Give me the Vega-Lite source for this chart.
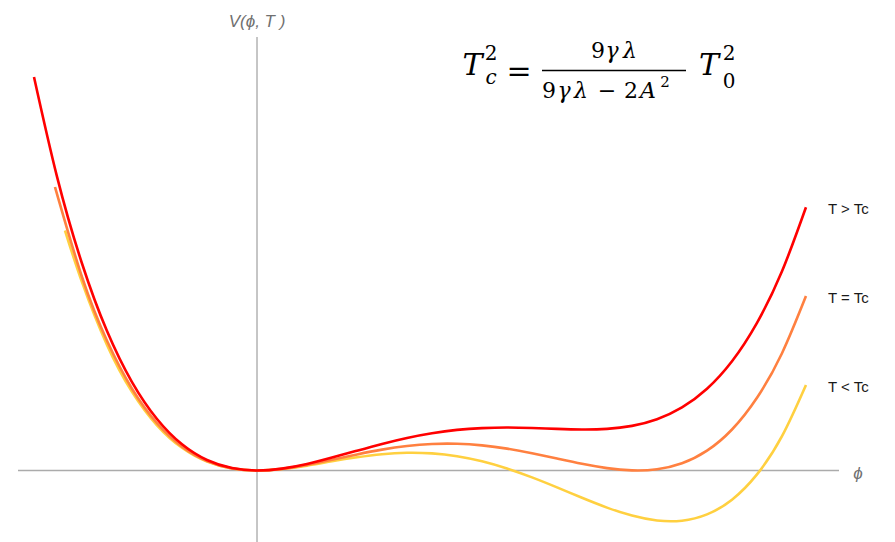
{
  "$schema": "https://vega.github.io/schema/vega-lite/v6.json",
  "width": 895,
  "height": 542,
  "padding": 0,
  "autosize": "none",
  "background": "white",
  "config": {"view": {"stroke": null}},
  "datasets": {
    "curves": [
      {"T": "T < Tc", "phi": -1.92, "V": 2.40},
      {"T": "T < Tc", "phi": -1.75, "V": 1.884},
      {"T": "T < Tc", "phi": -1.5, "V": 1.256},
      {"T": "T < Tc", "phi": -1.25, "V": 0.787},
      {"T": "T < Tc", "phi": -1.0, "V": 0.452},
      {"T": "T < Tc", "phi": -0.75, "V": 0.227},
      {"T": "T < Tc", "phi": -0.5, "V": 0.089},
      {"T": "T < Tc", "phi": -0.25, "V": 0.020},
      {"T": "T < Tc", "phi": 0, "V": 0},
      {"T": "T < Tc", "phi": 0.25, "V": 0.015},
      {"T": "T < Tc", "phi": 0.5, "V": 0.049},
      {"T": "T < Tc", "phi": 0.75, "V": 0.092},
      {"T": "T < Tc", "phi": 1.0, "V": 0.132},
      {"T": "T < Tc", "phi": 1.25, "V": 0.163},
      {"T": "T < Tc", "phi": 1.5, "V": 0.177},
      {"T": "T < Tc", "phi": 1.75, "V": 0.171},
      {"T": "T < Tc", "phi": 2.0, "V": 0.143},
      {"T": "T < Tc", "phi": 2.25, "V": 0.092},
      {"T": "T < Tc", "phi": 2.5, "V": 0.020},
      {"T": "T < Tc", "phi": 2.75, "V": -0.069},
      {"T": "T < Tc", "phi": 3.0, "V": -0.169},
      {"T": "T < Tc", "phi": 3.25, "V": -0.273},
      {"T": "T < Tc", "phi": 3.5, "V": -0.371},
      {"T": "T < Tc", "phi": 3.75, "V": -0.451},
      {"T": "T < Tc", "phi": 4.0, "V": -0.500},
      {"T": "T < Tc", "phi": 4.25, "V": -0.502},
      {"T": "T < Tc", "phi": 4.5, "V": -0.439},
      {"T": "T < Tc", "phi": 4.75, "V": -0.292},
      {"T": "T < Tc", "phi": 5.0, "V": -0.039},
      {"T": "T < Tc", "phi": 5.25, "V": 0.343},
      {"T": "T < Tc", "phi": 5.49, "V": 0.855},

      {"T": "T = Tc", "phi": -2.02, "V": 2.835},
      {"T": "T = Tc", "phi": -1.75, "V": 1.935},
      {"T": "T = Tc", "phi": -1.5, "V": 1.297},
      {"T": "T = Tc", "phi": -1.25, "V": 0.818},
      {"T": "T = Tc", "phi": -1.0, "V": 0.473},
      {"T": "T = Tc", "phi": -0.75, "V": 0.239},
      {"T": "T = Tc", "phi": -0.5, "V": 0.095},
      {"T": "T = Tc", "phi": -0.25, "V": 0.021},
      {"T": "T = Tc", "phi": 0, "V": 0},
      {"T": "T = Tc", "phi": 0.25, "V": 0.016},
      {"T": "T = Tc", "phi": 0.5, "V": 0.056},
      {"T": "T = Tc", "phi": 0.75, "V": 0.108},
      {"T": "T = Tc", "phi": 1.0, "V": 0.161},
      {"T": "T = Tc", "phi": 1.25, "V": 0.209},
      {"T": "T = Tc", "phi": 1.5, "V": 0.245},
      {"T": "T = Tc", "phi": 1.75, "V": 0.265},
      {"T": "T = Tc", "phi": 2.0, "V": 0.267},
      {"T": "T = Tc", "phi": 2.25, "V": 0.251},
      {"T": "T = Tc", "phi": 2.5, "V": 0.219},
      {"T": "T = Tc", "phi": 2.75, "V": 0.173},
      {"T": "T = Tc", "phi": 3.0, "V": 0.120},
      {"T": "T = Tc", "phi": 3.25, "V": 0.067},
      {"T": "T = Tc", "phi": 3.5, "V": 0.024},
      {"T": "T = Tc", "phi": 3.75, "V": 0.001},
      {"T": "T = Tc", "phi": 4.0, "V": 0.012},
      {"T": "T = Tc", "phi": 4.25, "V": 0.072},
      {"T": "T = Tc", "phi": 4.5, "V": 0.198},
      {"T": "T = Tc", "phi": 4.75, "V": 0.410},
      {"T": "T = Tc", "phi": 5.0, "V": 0.727},
      {"T": "T = Tc", "phi": 5.25, "V": 1.173},
      {"T": "T = Tc", "phi": 5.49, "V": 1.745},

      {"T": "T > Tc", "phi": -2.23, "V": 3.935},
      {"T": "T > Tc", "phi": -2.0, "V": 2.939},
      {"T": "T > Tc", "phi": -1.75, "V": 2.070},
      {"T": "T > Tc", "phi": -1.5, "V": 1.394},
      {"T": "T > Tc", "phi": -1.25, "V": 0.884},
      {"T": "T > Tc", "phi": -1.0, "V": 0.515},
      {"T": "T > Tc", "phi": -0.75, "V": 0.262},
      {"T": "T > Tc", "phi": -0.5, "V": 0.105},
      {"T": "T > Tc", "phi": -0.25, "V": 0.024},
      {"T": "T > Tc", "phi": 0, "V": 0},
      {"T": "T > Tc", "phi": 0.25, "V": 0.019},
      {"T": "T > Tc", "phi": 0.5, "V": 0.065},
      {"T": "T > Tc", "phi": 0.75, "V": 0.129},
      {"T": "T > Tc", "phi": 1.0, "V": 0.198},
      {"T": "T > Tc", "phi": 1.25, "V": 0.266},
      {"T": "T > Tc", "phi": 1.5, "V": 0.326},
      {"T": "T > Tc", "phi": 1.75, "V": 0.373},
      {"T": "T > Tc", "phi": 2.0, "V": 0.406},
      {"T": "T > Tc", "phi": 2.25, "V": 0.424},
      {"T": "T > Tc", "phi": 2.5, "V": 0.430},
      {"T": "T > Tc", "phi": 2.75, "V": 0.425},
      {"T": "T > Tc", "phi": 3.0, "V": 0.416},
      {"T": "T > Tc", "phi": 3.25, "V": 0.410},
      {"T": "T > Tc", "phi": 3.5, "V": 0.416},
      {"T": "T > Tc", "phi": 3.75, "V": 0.446},
      {"T": "T > Tc", "phi": 4.0, "V": 0.513},
      {"T": "T > Tc", "phi": 4.25, "V": 0.631},
      {"T": "T > Tc", "phi": 4.5, "V": 0.818},
      {"T": "T > Tc", "phi": 4.75, "V": 1.093},
      {"T": "T > Tc", "phi": 5.0, "V": 1.477},
      {"T": "T > Tc", "phi": 5.25, "V": 1.992},
      {"T": "T > Tc", "phi": 5.49, "V": 2.633}
    ],
    "one": [{}]
  },
  "layer": [
    {
      "data": {"name": "one"},
      "mark": {"type": "rule", "color": "#ababab", "strokeWidth": 1.4},
      "encoding": {
        "x": {"datum": -2.39, "type": "quantitative", "scale": {"domain": [-2.57, 6.38], "nice": false, "zero": false}, "axis": null},
        "x2": {"datum": 5.82},
        "y": {"datum": 0, "type": "quantitative", "scale": {"domain": [-0.715, 4.705], "nice": false, "zero": false}, "axis": null}
      }
    },
    {
      "data": {"name": "one"},
      "mark": {"type": "rule", "color": "#8c8c8c", "strokeWidth": 1},
      "encoding": {
        "x": {"datum": 0, "type": "quantitative"},
        "y": {"datum": 4.335, "type": "quantitative"},
        "y2": {"datum": -0.715}
      }
    },
    {
      "data": {"name": "curves"},
      "mark": {"type": "line", "interpolate": "natural", "strokeWidth": 2.6, "strokeCap": "butt"},
      "encoding": {
        "x": {"field": "phi", "type": "quantitative"},
        "y": {"field": "V", "type": "quantitative"},
        "color": {
          "field": "T",
          "type": "nominal",
          "scale": {"domain": ["T < Tc", "T = Tc", "T > Tc"], "range": ["#ffd040", "#ff8040", "#ff0000"]},
          "legend": null
        },
        "order": {"field": "phi", "type": "quantitative"}
      }
    },
    {
      "data": {"name": "curves"},
      "transform": [
        {"joinaggregate": [{"op": "max", "field": "phi", "as": "phiEnd"}], "groupby": ["T"]},
        {"filter": "datum.phi === datum.phiEnd"}
      ],
      "mark": {"type": "text", "align": "left", "baseline": "middle", "dx": 22, "dy": 2, "font": "Liberation Sans", "fontSize": 15, "color": "#1a1a1a"},
      "encoding": {
        "x": {"field": "phi", "type": "quantitative"},
        "y": {"field": "V", "type": "quantitative"},
        "text": {"field": "T"}
      }
    },
    {
      "data": {"name": "one"},
      "mark": {"type": "text", "text": "V(ϕ, T )", "align": "center", "baseline": "middle", "font": "Liberation Sans", "fontStyle": "italic", "fontSize": 17, "color": "#707070"},
      "encoding": {"x": {"datum": 0, "type": "quantitative"}, "y": {"datum": 4.49, "type": "quantitative"}}
    },
    {
      "data": {"name": "one"},
      "mark": {"type": "text", "text": "ϕ", "align": "center", "baseline": "middle", "font": "Liberation Sans", "fontStyle": "italic", "fontSize": 17, "color": "#707070"},
      "encoding": {"x": {"datum": 6.01, "type": "quantitative"}, "y": {"datum": -0.03, "type": "quantitative"}}
    },

    {
      "data": {"name": "one"},
      "mark": {"type": "text", "text": "T", "align": "center", "baseline": "alphabetic", "font": "DejaVu Serif", "fontStyle": "italic", "fontSize": 30, "color": "#000"},
      "encoding": {"x": {"datum": 2.155, "type": "quantitative"}, "y": {"datum": 3.955, "type": "quantitative"}}
    },
    {
      "data": {"name": "one"},
      "mark": {"type": "text", "text": "2", "align": "center", "baseline": "alphabetic", "font": "DejaVu Serif", "fontSize": 20, "color": "#000"},
      "encoding": {"x": {"datum": 2.34, "type": "quantitative"}, "y": {"datum": 4.105, "type": "quantitative"}}
    },
    {
      "data": {"name": "one"},
      "mark": {"type": "text", "text": "c", "align": "center", "baseline": "alphabetic", "font": "DejaVu Serif", "fontStyle": "italic", "fontSize": 20, "color": "#000"},
      "encoding": {"x": {"datum": 2.34, "type": "quantitative"}, "y": {"datum": 3.87, "type": "quantitative"}}
    },
    {
      "data": {"name": "one"},
      "mark": {"type": "text", "text": "=", "align": "center", "baseline": "alphabetic", "font": "DejaVu Serif", "fontSize": 30, "color": "#000"},
      "encoding": {"x": {"datum": 2.62, "type": "quantitative"}, "y": {"datum": 3.9, "type": "quantitative"}}
    },

    {
      "data": {"name": "one"},
      "mark": {"type": "text", "text": "9", "align": "center", "baseline": "alphabetic", "font": "DejaVu Serif", "fontSize": 22, "color": "#000"},
      "encoding": {"x": {"datum": 3.41, "type": "quantitative"}, "y": {"datum": 4.13, "type": "quantitative"}}
    },
    {
      "data": {"name": "one"},
      "mark": {"type": "text", "text": "γ", "align": "center", "baseline": "alphabetic", "font": "DejaVu Serif", "fontStyle": "italic", "fontSize": 22, "color": "#000"},
      "encoding": {"x": {"datum": 3.55, "type": "quantitative"}, "y": {"datum": 4.13, "type": "quantitative"}}
    },
    {
      "data": {"name": "one"},
      "mark": {"type": "text", "text": "λ", "align": "center", "baseline": "alphabetic", "font": "DejaVu Serif", "fontStyle": "italic", "fontSize": 22, "color": "#000"},
      "encoding": {"x": {"datum": 3.73, "type": "quantitative"}, "y": {"datum": 4.13, "type": "quantitative"}}
    },
    {
      "data": {"name": "one"},
      "mark": {"type": "rule", "color": "#000", "strokeWidth": 1.3},
      "encoding": {"x": {"datum": 2.85, "type": "quantitative"}, "x2": {"datum": 4.29}, "y": {"datum": 4.0, "type": "quantitative"}}
    },
    {
      "data": {"name": "one"},
      "mark": {"type": "text", "text": "9", "align": "center", "baseline": "alphabetic", "font": "DejaVu Serif", "fontSize": 22, "color": "#000"},
      "encoding": {"x": {"datum": 2.92, "type": "quantitative"}, "y": {"datum": 3.73, "type": "quantitative"}}
    },
    {
      "data": {"name": "one"},
      "mark": {"type": "text", "text": "γ", "align": "center", "baseline": "alphabetic", "font": "DejaVu Serif", "fontStyle": "italic", "fontSize": 22, "color": "#000"},
      "encoding": {"x": {"datum": 3.07, "type": "quantitative"}, "y": {"datum": 3.73, "type": "quantitative"}}
    },
    {
      "data": {"name": "one"},
      "mark": {"type": "text", "text": "λ", "align": "center", "baseline": "alphabetic", "font": "DejaVu Serif", "fontStyle": "italic", "fontSize": 22, "color": "#000"},
      "encoding": {"x": {"datum": 3.24, "type": "quantitative"}, "y": {"datum": 3.73, "type": "quantitative"}}
    },
    {
      "data": {"name": "one"},
      "mark": {"type": "text", "text": "−", "align": "center", "baseline": "alphabetic", "font": "DejaVu Serif", "fontSize": 22, "color": "#000"},
      "encoding": {"x": {"datum": 3.5, "type": "quantitative"}, "y": {"datum": 3.73, "type": "quantitative"}}
    },
    {
      "data": {"name": "one"},
      "mark": {"type": "text", "text": "2", "align": "center", "baseline": "alphabetic", "font": "DejaVu Serif", "fontSize": 22, "color": "#000"},
      "encoding": {"x": {"datum": 3.74, "type": "quantitative"}, "y": {"datum": 3.73, "type": "quantitative"}}
    },
    {
      "data": {"name": "one"},
      "mark": {"type": "text", "text": "A", "align": "center", "baseline": "alphabetic", "font": "DejaVu Serif", "fontStyle": "italic", "fontSize": 22, "color": "#000"},
      "encoding": {"x": {"datum": 3.91, "type": "quantitative"}, "y": {"datum": 3.73, "type": "quantitative"}}
    },
    {
      "data": {"name": "one"},
      "mark": {"type": "text", "text": "2", "align": "center", "baseline": "alphabetic", "font": "DejaVu Serif", "fontSize": 15, "color": "#000"},
      "encoding": {"x": {"datum": 4.08, "type": "quantitative"}, "y": {"datum": 3.84, "type": "quantitative"}}
    },

    {
      "data": {"name": "one"},
      "mark": {"type": "text", "text": "T", "align": "center", "baseline": "alphabetic", "font": "DejaVu Serif", "fontStyle": "italic", "fontSize": 30, "color": "#000"},
      "encoding": {"x": {"datum": 4.52, "type": "quantitative"}, "y": {"datum": 3.955, "type": "quantitative"}}
    },
    {
      "data": {"name": "one"},
      "mark": {"type": "text", "text": "2", "align": "center", "baseline": "alphabetic", "font": "DejaVu Serif", "fontSize": 20, "color": "#000"},
      "encoding": {"x": {"datum": 4.72, "type": "quantitative"}, "y": {"datum": 4.105, "type": "quantitative"}}
    },
    {
      "data": {"name": "one"},
      "mark": {"type": "text", "text": "0", "align": "center", "baseline": "alphabetic", "font": "DejaVu Serif", "fontSize": 20, "color": "#000"},
      "encoding": {"x": {"datum": 4.72, "type": "quantitative"}, "y": {"datum": 3.83, "type": "quantitative"}}
    }
  ]
}
